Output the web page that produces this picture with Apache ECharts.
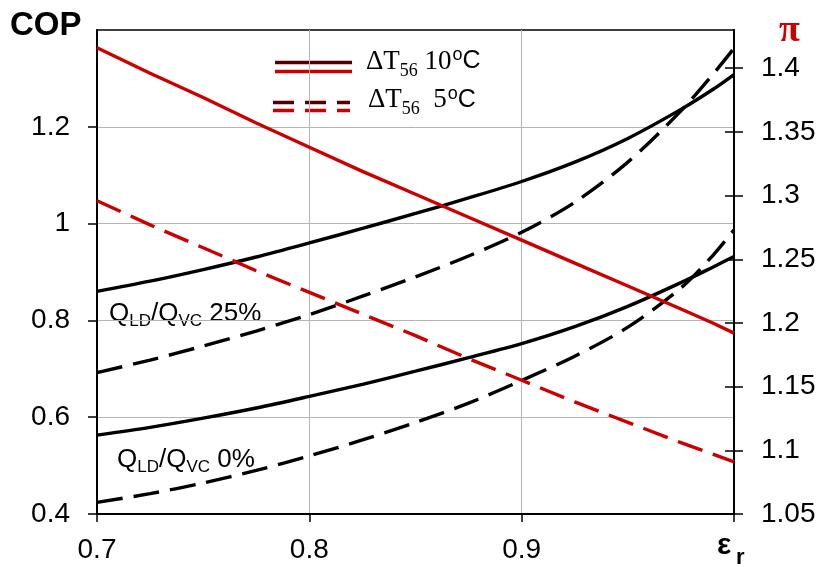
<!DOCTYPE html>
<html><head><meta charset="utf-8">
<script src="https://cdn.jsdelivr.net/npm/echarts@6/dist/echarts.min.js"></script>
<style>html,body{margin:0;padding:0;background:#fff}#c{width:820px;height:567px}</style>
</head><body><div id="c"></div>
<script>
// ---- data ----
const epsilon = [0.700,0.725,0.750,0.775,0.800,0.825,0.850,0.875,0.900,0.925,0.950,0.975,0.990,1.000];
const copQ25dT10 = [0.860,0.881,0.905,0.931,0.960,0.990,1.021,1.053,1.087,1.127,1.176,1.236,1.277,1.308];
const copQ25dT5  = [0.692,0.718,0.747,0.778,0.812,0.850,0.890,0.933,0.982,1.044,1.127,1.233,1.308,1.362];
const copQ0dT10  = [0.563,0.579,0.598,0.619,0.643,0.668,0.695,0.723,0.752,0.787,0.829,0.878,0.910,0.932];
const copQ0dT5   = [0.424,0.442,0.464,0.490,0.520,0.553,0.589,0.629,0.676,0.726,0.786,0.867,0.934,0.987];
const piDT10     = [1.416,1.396,1.377,1.357,1.338,1.319,1.301,1.283,1.265,1.247,1.229,1.211,1.200,1.192];
const piDT5      = [1.296,1.277,1.259,1.241,1.224,1.207,1.190,1.172,1.155,1.138,1.122,1.106,1.097,1.091];

const xTicks = [0.7, 0.8, 0.9];
const xTickLabels = ['0.7', '0.8', '0.9'];
const copTicks = [0.4, 0.6, 0.8, 1.0, 1.2];
const copTickLabels = ['0.4', '0.6', '0.8', '1', '1.2'];
const piTicks = [1.05, 1.1, 1.15, 1.2, 1.25, 1.3, 1.35, 1.4];
const piTickLabels = ['1.05', '1.1', '1.15', '1.2', '1.25', '1.3', '1.35', '1.4'];

// ---- chart ----
const SANS = "'Liberation Sans', Arial, sans-serif";
const SERIF = "'Liberation Serif', 'Times New Roman', serif";
const RED = '#CC0000';
const DASH = [26, 11];

function lookup(ticks, labels) {
  return function (v) {
    for (let i = 0; i < ticks.length; i++) if (Math.abs(ticks[i] - v) < 1e-6) return labels[i];
    return '';
  };
}
function pairs(ys) { return epsilon.map((x, i) => [x, ys[i]]); }
function mk(name, ys, yIdx, color, dashed, smooth) {
  return {
    name, type: 'line', yAxisIndex: yIdx, data: pairs(ys), smooth: smooth,
    symbol: 'none', silent: true, animation: false,
    lineStyle: { color, width: 3.4, type: dashed ? DASH : 'solid', cap: 'butt' }
  };
}

const legendRich = {
  m: { fontFamily: SERIF, fontSize: 27, fill: '#000' },
  s: { fontFamily: SERIF, fontSize: 18, fill: '#000', padding: [19, 0, 0, 0] },
  o: { fontFamily: SANS, fontSize: 18, fill: '#000', padding: [0, 0, 12, 1] },
  c: { fontFamily: SANS, fontSize: 25, fill: '#000' }
};
const noteRich = {
  a: { fontFamily: SANS, fontSize: 26, fill: '#000' },
  b: { fontFamily: SANS, fontSize: 17, fill: '#000', padding: [15, 0, 0, 0] }
};

const chart = echarts.init(document.getElementById('c'), null, { renderer: 'canvas' });
chart.setOption({
  animation: false,
  backgroundColor: '#fff',
  grid: { left: 97, right: 86, top: 30, bottom: 53, show: true, borderColor: '#000', borderWidth: 1.5, containLabel: false },
  xAxis: {
    type: 'value', min: 0.7, max: 1.0, interval: 0.1,
    axisLine: { show: true, onZero: false, lineStyle: { color: '#000', width: 2 } },
    axisTick: { show: true, length: 8, lineStyle: { color: '#000', width: 1.5 } },
    axisLabel: { customValues: xTicks, formatter: lookup(xTicks, xTickLabels), fontSize: 28, fontFamily: SANS, color: '#000', margin: 22 },
    splitLine: { show: true, lineStyle: { color: '#b4b4b4', width: 1 } }
  },
  yAxis: [
    {
      type: 'value', position: 'left', min: 0.4, max: 1.4, interval: 0.2,
      axisLine: { show: true, onZero: false, lineStyle: { color: '#000', width: 2 } },
      axisTick: { show: true, length: 9, customValues: copTicks, lineStyle: { color: '#000', width: 1.5 } },
      axisLabel: { customValues: copTicks, formatter: lookup(copTicks, copTickLabels), fontSize: 28, fontFamily: SANS, color: '#000', margin: 27 },
      splitLine: { show: true, lineStyle: { color: '#b4b4b4', width: 1 } }
    },
    {
      type: 'value', position: 'right', offset: 0, min: 1.05, max: 1.43,
      axisLine: { show: true, onZero: false, lineStyle: { color: '#000', width: 2 } },
      axisTick: { show: true, length: 9, customValues: piTicks, lineStyle: { color: '#000', width: 1.5 } },
      axisLabel: { customValues: piTicks, formatter: lookup(piTicks, piTickLabels), fontSize: 28, fontFamily: SANS, color: '#000', margin: 27 },
      splitLine: { show: false }
    },
    {
      type: 'value', position: 'right', offset: 0, min: 1.05, max: 1.43,
      axisLine: { show: false },
      axisTick: { show: true, inside: true, length: 9, customValues: piTicks, lineStyle: { color: '#000', width: 1.5 } },
      axisLabel: { show: false },
      splitLine: { show: false }
    }
  ],
  series: [
    mk('COP Q25 dT10', copQ25dT10, 0, '#000', false, 0.3),
    mk('COP Q25 dT5', copQ25dT5, 0, '#000', true, 0.3),
    mk('COP Q0 dT10', copQ0dT10, 0, '#000', false, 0.3),
    mk('COP Q0 dT5', copQ0dT5, 0, '#000', true, 0.3),
    mk('pi dT10', piDT10, 1, RED, false, false),
    mk('pi dT5', piDT5, 1, RED, true, false)
  ],
  graphic: [
    { type: 'text', x: 10, y: 26, style: { text: 'COP', fontSize: 33, fontWeight: 'bold', fontFamily: SANS, fill: '#000', align: 'left', verticalAlign: 'middle' } },
    { type: 'text', x: 789.5, y: 31, style: { text: 'π', fontSize: 38, fontWeight: 'bold', fontFamily: SERIF, fill: RED, align: 'center', verticalAlign: 'middle' } },
    { type: 'text', x: 717, y: 546, style: { text: 'ε', fontSize: 30, fontWeight: 'bold', fontFamily: SANS, fill: '#000', align: 'left', verticalAlign: 'middle' } },
    { type: 'text', x: 736, y: 557.5, style: { text: 'r', fontSize: 22, fontWeight: 'bold', fontFamily: SANS, fill: '#000', align: 'left', verticalAlign: 'middle' } },
    // legend
    { type: 'line', shape: { x1: 275, y1: 62.5, x2: 352, y2: 62.5 }, style: { stroke: '#500000', lineWidth: 3.4 } },
    { type: 'line', shape: { x1: 275, y1: 71.5, x2: 352, y2: 71.5 }, style: { stroke: RED, lineWidth: 3.4 } },
    { type: 'line', shape: { x1: 273, y1: 102.5, x2: 350, y2: 102.5 }, style: { stroke: '#500000', lineWidth: 3.4, lineDash: [21, 11] } },
    { type: 'line', shape: { x1: 273, y1: 110.5, x2: 350, y2: 110.5 }, style: { stroke: RED, lineWidth: 3.4, lineDash: [21, 11] } },
    { type: 'text', x: 366, y: 61.5, style: { text: '{m|ΔT}{s|56}{m| 10}{o|o}{c|C}', align: 'left', verticalAlign: 'middle', rich: legendRich } },
    { type: 'text', x: 368, y: 99.8, style: { text: '{m|ΔT}{s|56}{m|  5}{o|o}{c|C}', align: 'left', verticalAlign: 'middle', rich: legendRich } },
    // curve annotations
    { type: 'text', x: 103, y: 313.7, style: {
      text: '{a|Q}{b|LD}{a|/Q}{b|VC}{a| 25%}', align: 'left', verticalAlign: 'middle',
      backgroundColor: '#fff', padding: [3, 6, 3, 6], rich: noteRich } },
    { type: 'text', x: 117, y: 460.3, style: {
      text: '{a|Q}{b|LD}{a|/Q}{b|VC}{a| 0%}', align: 'left', verticalAlign: 'middle', rich: noteRich } }
  ]
});
</script>
</body></html>
